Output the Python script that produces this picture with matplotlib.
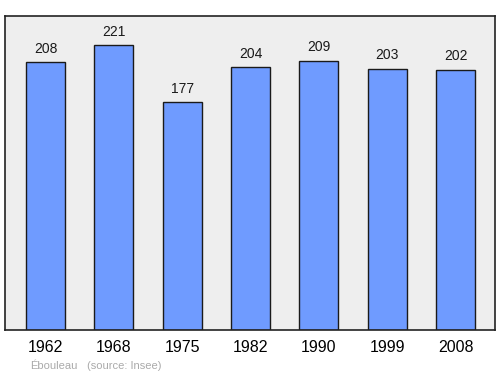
import numpy as np
import matplotlib.pyplot as plt

plt.rcParams["font.family"] = ["Liberation Sans", "DejaVu Sans"]

years = ["1962", "1968", "1975", "1982", "1990", "1999", "2008"]
population = [208, 221, 177, 204, 209, 203, 202]

fig = plt.figure(figsize=(5.0, 3.74), dpi=100)
ax = fig.add_axes([0.01, 1 - 330 / 374, 0.98, 314 / 374])
ax.set_facecolor("#eeeeee")

x = np.arange(len(years))
ax.bar(x, population, width=0.57, color="#6f9bff", edgecolor="#1a1a1a", linewidth=1.0)

for xi, v in zip(x, population):
    ax.text(xi, v + 5, str(v), ha="center", va="bottom", fontsize=10, color="#1a1a1a")

ax.set_xlim(-0.593, 6.578)
ax.set_ylim(0, 243.8)
ax.set_xticks(x)
ax.set_xticklabels(years, fontsize=11.5)
ax.tick_params(axis="x", length=0, pad=7)
ax.set_yticks([])
for s in ax.spines.values():
    s.set_linewidth(1.2)
    s.set_color("#222222")

fig.text(30 / 500, 1 - 369 / 374, "Ébouleau", fontsize=8, color="#aaaaaa", va="baseline")
fig.text(87 / 500, 1 - 369 / 374, "(source: Insee)", fontsize=8, color="#aaaaaa", va="baseline")

fig.savefig("out.png", dpi=100)
